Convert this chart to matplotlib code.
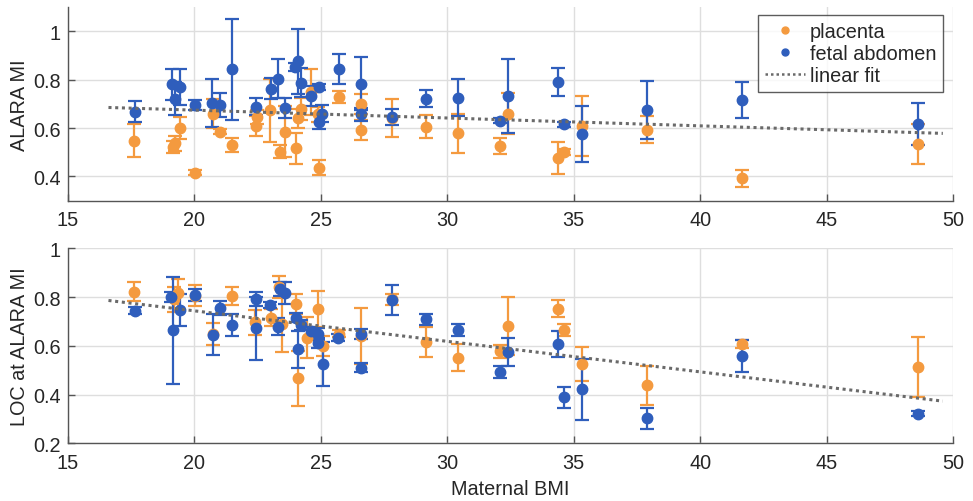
import matplotlib
matplotlib.use("Agg")
import matplotlib.pyplot as plt
from matplotlib.lines import Line2D

plt.rcParams['font.family'] = ['Liberation Sans', 'DejaVu Sans']

# ---------------- data: top panel (ALARA MI) ----------------
top_pl_x = [17.61, 19.14, 19.23, 19.43, 20.02, 20.72, 21.03, 21.50, 22.42, 22.47, 22.99, 23.40,
            23.60, 24.00, 24.10, 24.20, 24.60, 24.90, 24.92, 25.73, 26.58, 26.58, 27.80, 29.14,
            30.41, 32.10, 32.41, 34.39, 34.62, 35.31, 37.88, 41.64, 48.62]
top_pl_y = [0.548, 0.520, 0.537, 0.600, 0.416, 0.660, 0.585, 0.530, 0.609, 0.646, 0.674, 0.503,
            0.585, 0.516, 0.640, 0.680, 0.750, 0.656, 0.437, 0.729, 0.700, 0.591, 0.643, 0.605,
            0.578, 0.527, 0.660, 0.478, 0.500, 0.608, 0.594, 0.393, 0.534]
top_pl_e = [0.067, 0.025, 0.030, 0.045, 0.010, 0.060, 0.010, 0.030, 0.040, 0.030, 0.130, 0.025,
            0.105, 0.065, 0.040, 0.045, 0.095, 0.030, 0.032, 0.025, 0.040, 0.042, 0.079, 0.048,
            0.082, 0.033, 0.085, 0.066, 0.012, 0.125, 0.055, 0.035, 0.083]

top_fa_x = [17.65, 19.10, 19.23, 19.43, 20.02, 20.70, 21.03, 21.50, 22.42, 23.02, 23.30, 23.57,
            23.97, 24.10, 24.20, 24.63, 24.92, 24.92, 25.06, 25.73, 26.58, 26.58, 27.80, 29.14,
            30.41, 32.10, 32.41, 34.39, 34.62, 35.31, 37.88, 41.64, 48.62]
top_fa_y = [0.667, 0.780, 0.722, 0.770, 0.694, 0.704, 0.694, 0.842, 0.688, 0.763, 0.804, 0.683,
            0.852, 0.875, 0.787, 0.733, 0.770, 0.626, 0.660, 0.842, 0.783, 0.656, 0.644, 0.722,
            0.725, 0.630, 0.733, 0.790, 0.615, 0.575, 0.674, 0.715, 0.616]
top_fa_e = [0.044, 0.065, 0.070, 0.075, 0.020, 0.100, 0.050, 0.210, 0.035, 0.045, 0.080, 0.040,
            0.015, 0.135, 0.060, 0.040, 0.012, 0.030, 0.035, 0.062, 0.110, 0.025, 0.033, 0.035,
            0.077, 0.010, 0.154, 0.059, 0.010, 0.115, 0.120, 0.075, 0.087]

top_fit_x = [16.6, 49.6]
top_fit_y = [0.685, 0.578]

# ---------------- data: bottom panel (LOC at ALARA MI) ----------------
bot_pl_x = [17.61, 19.20, 19.36, 20.02, 20.72, 21.50, 22.39, 23.03, 23.35, 23.47, 24.00, 24.10,
            24.44, 24.90, 25.10, 25.73, 26.58, 27.80, 29.14, 30.41, 32.10, 32.41, 34.39, 34.62,
            35.31, 37.88, 41.64, 48.62]
bot_pl_y = [0.822, 0.790, 0.815, 0.806, 0.648, 0.805, 0.696, 0.716, 0.840, 0.690, 0.771, 0.467,
            0.634, 0.750, 0.600, 0.650, 0.641, 0.790, 0.616, 0.552, 0.577, 0.682, 0.753, 0.664,
            0.527, 0.438, 0.607, 0.513]
bot_pl_e = [0.040, 0.050, 0.060, 0.043, 0.044, 0.038, 0.050, 0.035, 0.045, 0.115, 0.040, 0.113,
            0.085, 0.073, 0.040, 0.015, 0.115, 0.022, 0.060, 0.055, 0.025, 0.119, 0.035, 0.025,
            0.070, 0.080, 0.018, 0.124]

bot_fa_x = [17.65, 19.07, 19.17, 19.43, 20.02, 20.72, 21.03, 21.50, 22.43, 22.43, 22.99, 23.30,
            23.40, 23.60, 24.00, 24.10, 24.20, 24.60, 24.90, 24.90, 25.10, 25.69, 26.58, 26.58,
            27.80, 29.14, 30.41, 32.10, 32.41, 34.39, 34.62, 35.31, 37.88, 41.64, 48.62]
bot_fa_y = [0.744, 0.800, 0.664, 0.746, 0.810, 0.645, 0.755, 0.685, 0.792, 0.672, 0.768, 0.678,
            0.833, 0.815, 0.716, 0.586, 0.686, 0.659, 0.648, 0.610, 0.527, 0.634, 0.648, 0.511,
            0.788, 0.709, 0.664, 0.494, 0.575, 0.607, 0.388, 0.422, 0.302, 0.559, 0.322]
bot_fa_e = [0.015, 0.020, 0.220, 0.065, 0.025, 0.084, 0.030, 0.045, 0.030, 0.130, 0.012, 0.035,
            0.030, 0.045, 0.020, 0.075, 0.020, 0.020, 0.025, 0.020, 0.090, 0.015, 0.020, 0.020,
            0.061, 0.022, 0.025, 0.025, 0.058, 0.053, 0.045, 0.125, 0.044, 0.065, 0.010]

bot_fit_x = [16.6, 49.6]
bot_fit_y = [0.786, 0.373]

x_ticks = [15, 20, 25, 30, 35, 40, 45, 50]
top_yticks = [0.4, 0.6, 0.8, 1.0]
top_yticklabels = ['0.4', '0.6', '0.8', '1']
bot_yticks = [0.2, 0.4, 0.6, 0.8, 1.0]
bot_yticklabels = ['0.2', '0.4', '0.6', '0.8', '1']

labels = ['placenta', 'fetal abdomen', 'linear fit']
ylabels = ['ALARA MI', 'LOC at ALARA MI']
xlabel = 'Maternal BMI'

# ---------------- styling ----------------
ORANGE = '#F49A3F'
BLUE = '#2F5EBC'
FITC = '#6a6a6a'
TXT = '#262626'
FS = 14.3

fig = plt.figure(figsize=(9.73, 5.02), dpi=100)
ax1 = fig.add_axes([0.0699, 0.5982, 0.9095, 0.3859])
ax2 = fig.add_axes([0.0699, 0.1149, 0.9095, 0.3885])


def style(ax, ylim, yticks, yticklabels, ylabel):
    ax.set_xlim(15, 50)
    ax.set_ylim(*ylim)
    ax.set_xticks(x_ticks)
    ax.set_xticklabels([str(t) for t in x_ticks])
    ax.set_yticks(yticks)
    ax.set_yticklabels(yticklabels)
    ax.grid(True, color='#dedede', linewidth=1.0)
    ax.set_axisbelow(True)
    for s in ['top', 'right']:
        ax.spines[s].set_visible(False)
    for s in ['left', 'bottom']:
        ax.spines[s].set_color('#555555')
        ax.spines[s].set_linewidth(1.0)
    ax.tick_params(direction='in', length=5, width=1, color='#555555',
                   labelsize=FS, labelcolor=TXT)
    ax.tick_params(axis='x', pad=7)
    ax.tick_params(axis='y', pad=5)
    ax.set_ylabel(ylabel, fontsize=FS, color=TXT, labelpad=3)


ekw = dict(fmt='o', markersize=7.5, elinewidth=1.6, capsize=5, capthick=1.6, zorder=3)

# top
ax1.errorbar(top_pl_x, top_pl_y, yerr=top_pl_e, color=ORANGE, **ekw)
ax1.errorbar(top_fa_x, top_fa_y, yerr=top_fa_e, color=BLUE, **ekw)
ax1.plot(top_fit_x, top_fit_y, linestyle=(0, (1, 1.2)), color=FITC, linewidth=2.2, zorder=4)
style(ax1, (0.3, 1.1), top_yticks, top_yticklabels, ylabels[0])

# bottom
ax2.errorbar(bot_pl_x, bot_pl_y, yerr=bot_pl_e, color=ORANGE, **ekw)
ax2.errorbar(bot_fa_x, bot_fa_y, yerr=bot_fa_e, color=BLUE, **ekw)
ax2.plot(bot_fit_x, bot_fit_y, linestyle=(0, (1, 1.2)), color=FITC, linewidth=2.2, zorder=4)
style(ax2, (0.2, 1.0), bot_yticks, bot_yticklabels, ylabels[1])
ax2.set_xlabel(xlabel, fontsize=FS, color=TXT, labelpad=5)

handles = [Line2D([], [], marker='o', linestyle='none', color=ORANGE, markersize=5),
           Line2D([], [], marker='o', linestyle='none', color=BLUE, markersize=5),
           Line2D([], [], linestyle=(0, (1, 1.2)), color=FITC, linewidth=1.8)]
leg = ax1.legend(handles, labels, loc='upper right', bbox_to_anchor=(0.989, 0.959),
                 borderaxespad=0, fontsize=FS, frameon=True, fancybox=False,
                 handlelength=2.0, handletextpad=0.25, labelspacing=0.15,
                 borderpad=0.35)
leg.get_frame().set_edgecolor('#333333')
leg.get_frame().set_linewidth(1.0)
for t in leg.get_texts():
    t.set_color(TXT)

fig.savefig('out.png', dpi=100)
